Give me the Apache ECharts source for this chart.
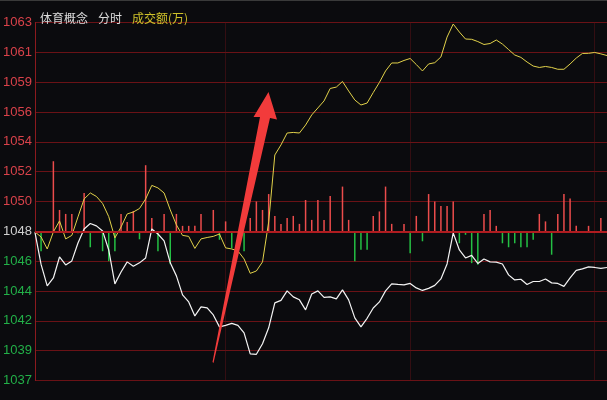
<!DOCTYPE html>
<html><head><meta charset="utf-8">
<script src="https://cdn.jsdelivr.net/npm/echarts/dist/echarts.min.js"></script>
<style>html,body{margin:0;padding:0;background:#0b0b0e;}#c{width:607px;height:400px;}</style>
</head><body><div id="c"></div>
<script>
// Reference (previous close) level and axis step
const baseLevel = 1047.93;
const axisStep = 2.13;
const axisMin = 1037.28;
const axisMax = 1062.84;

// White line: index price
const price = [1047.87,1045.57,1044.03,1044.60,1046.10,1045.53,1045.82,1047.10,1048.10,1048.49,
1048.32,1047.96,1046.60,1044.18,1045.03,1045.75,1045.43,1045.68,1046.03,1048.10,
1047.74,1047.25,1045.68,1044.75,1043.39,1042.89,1041.89,1042.54,1042.46,1041.96,
1041.11,1041.22,1041.36,1041.22,1040.68,1039.18,1039.15,1039.90,1041.04,1042.82,
1043.00,1043.68,1043.25,1043.04,1042.32,1043.46,1043.68,1043.21,1043.25,1043.11,
1043.75,1043.04,1041.75,1041.11,1041.72,1042.46,1042.89,1043.68,1044.18,1044.14,
1044.11,1044.21,1043.89,1043.71,1043.86,1044.07,1044.53,1045.60,1047.82,1046.60,
1046.03,1046.21,1045.64,1045.96,1045.75,1045.73,1045.60,1044.82,1044.46,1044.51,
1044.14,1044.35,1044.35,1044.53,1044.25,1044.21,1044.00,1044.60,1045.14,1045.25,
1045.39,1045.35,1045.28,1045.35];

// Yellow line: leading indicator
const lead = [1047.89,1047.53,1046.67,1047.89,1048.67,1047.39,1047.64,1048.96,1050.24,1050.67,
1050.42,1049.92,1048.98,1047.46,1048.24,1049.17,1049.31,1049.56,1050.24,1051.21,
1051.03,1050.67,1049.46,1048.39,1047.64,1047.57,1046.71,1047.39,1047.49,1047.57,
1047.74,1046.75,1046.67,1046.53,1045.96,1044.93,1045.10,1045.75,1048.60,1053.38,
1054.10,1054.95,1054.99,1054.95,1055.52,1056.24,1056.74,1057.24,1058.13,1058.23,
1058.63,1057.95,1057.31,1056.95,1057.09,1057.84,1058.56,1059.38,1059.95,1059.95,
1060.13,1060.27,1059.84,1059.38,1059.88,1059.97,1060.38,1061.80,1062.73,1062.16,
1061.66,1061.64,1061.48,1061.27,1061.34,1061.59,1061.30,1060.91,1060.52,1060.35,
1060.02,1059.73,1059.63,1059.70,1059.63,1059.50,1059.50,1059.88,1060.30,1060.63,
1060.64,1060.70,1060.60,1060.48];

// Red / green strength bars around the baseline
const strength = [0,-20,0,70.5,21.5,17.5,17.5,-2,38.5,-16,
0,-20,-30,-20,17.5,9.5,20.5,-8,66.5,13.5,
-20,17.5,-33,17.5,5.5,5.5,5.5,17.5,-1,21.5,
-8.5,10,-17,0,-20,13.5,30,21.5,37.5,15.5,
7.5,13.5,15.5,7.5,31.5,11.5,31.5,11.5,35.5,-1,
45,11.5,-30,-18.5,-18.5,15.5,20,45,7.5,-1,
7.5,-22,15.5,-10,37.5,30,25.5,25.5,30,-12,
-3.5,-32,-33.5,17.5,21.5,5.5,-12,-16,-12,-16,
-16,-8.5,17.5,10,-23.5,17.5,37.5,33,5.5,0,
5.5,0,13.5,0];

const categories = price.map((_, i) => String(i));
const hourMarks = [31, 61, 91];

const chart = echarts.init(document.getElementById('c'), null, {renderer: 'canvas'});
chart.setOption({
  animation: false,
  backgroundColor: '#0b0b0e',
  title: {
    left: 35, top: 4,
    text: '{w|体育概念}  {w|分时}  {y|成交额(万)}',
    textStyle: {
      fontWeight: 'normal',
      rich: {
        w: {color: '#dcdcdc', fontSize: 12, fontWeight: 'normal', fontFamily: 'Noto Sans CJK SC'},
        y: {color: '#cfc22a', fontSize: 12, fontWeight: 'normal', fontFamily: 'Noto Sans CJK SC'}
      }
    }
  },
  grid: {left: 34, right: -5, top: 22.5, bottom: 19.5, containLabel: false},
  xAxis: {
    type: 'category', data: categories, boundaryGap: false,
    axisLine: {show: false}, axisTick: {show: false}, axisLabel: {show: false},
    splitLine: {show: true, interval: (i) => hourMarks.includes(i),
      lineStyle: {color: '#5e1216', type: 'dotted', width: 1}}
  },
  yAxis: [{
    type: 'value', min: axisMin, max: axisMax, interval: axisStep,
    axisLine: {show: true, lineStyle: {color: '#8c1a1e', width: 1}},
    axisTick: {show: false},
    splitLine: {show: true, lineStyle: {color: '#6a1216', width: 1}},
    axisLabel: {
      margin: 3,
      formatter: (v) => {
        const r = Math.round(v);
        const k = r > 1048 ? 'up' : (r < 1048 ? 'dn' : 'eq');
        return '{' + k + '|' + r + '}';
      },
      rich: {
        up: {color: '#d9424a', fontSize: 13, fontFamily: 'Liberation Sans'},
        dn: {color: '#22b048', fontSize: 13, fontFamily: 'Liberation Sans'},
        eq: {color: '#d0d0d0', fontSize: 13, fontFamily: 'Liberation Sans'}
      }
    }
  }, {
    type: 'value', min: -150, max: 210, show: false,
    splitLine: {show: false}
  }],
  series: [{
    type: 'bar', yAxisIndex: 1, data: strength, barWidth: 1.5,
    itemStyle: {color: (p) => p.value >= 0 ? '#ec4c4c' : '#24c044'},
    markLine: {
      silent: true, symbol: 'none', label: {show: false},
      lineStyle: {color: '#b01c20', width: 1.8, type: 'solid'},
      data: [{yAxis: 0}]
    }
  }, {
    type: 'line', data: lead, symbol: 'none',
    lineStyle: {color: '#e2d24a', width: 1}
  }, {
    type: 'line', data: price, symbol: 'none',
    lineStyle: {color: '#f4f4f4', width: 1.2}
  }],
  graphic: [{
    type: 'rect', left: 0, top: 0, shape: {width: 607, height: 1},
    style: {fill: '#3a3a3a'}, z: 10
  }, {
    type: 'polygon', z: 100,
    shape: {points: [[213.5, 363], [270, 118], [277, 119.5], [268.5, 92], [253.5, 117], [260, 117], [212.5, 362]]},
    style: {fill: '#f23b3b'}
  }]
});
</script>
</body></html>
